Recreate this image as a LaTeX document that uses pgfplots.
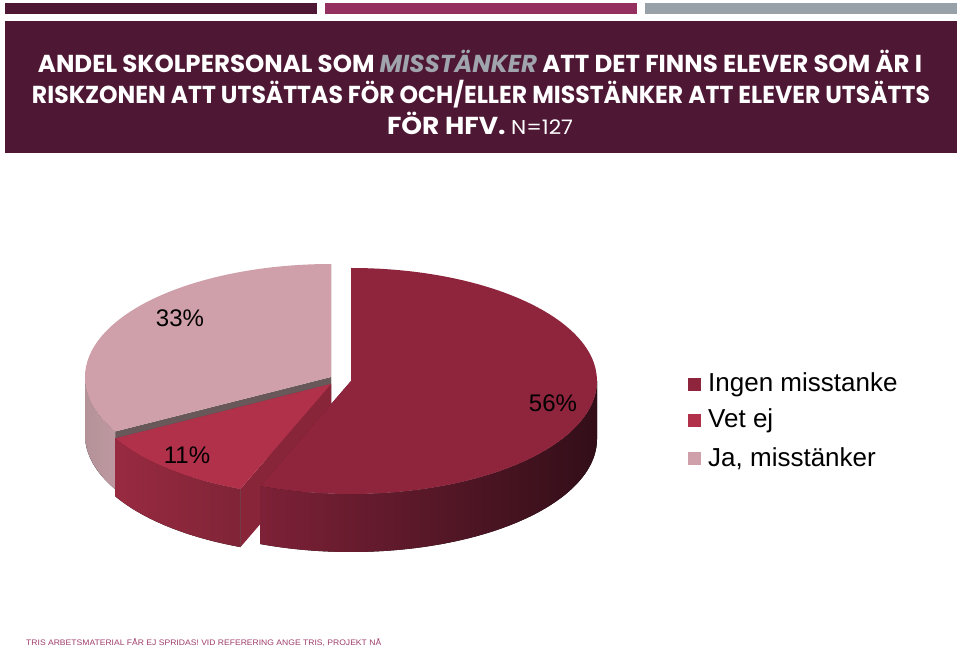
\documentclass[border=0pt]{standalone}
\usepackage{pgfplots}
\pgfplotsset{compat=1.18}
\usepackage{pgfplotstable}
\usepackage{graphicx}
\usepackage{fontspec}
\setmainfont{Liberation Sans}
\newfontfamily\titlefont{Poppins}

\definecolor{band}{RGB}{78,23,52}
\definecolor{barB}{RGB}{147,48,95}
\definecolor{barC}{RGB}{152,160,168}
\definecolor{misst}{RGB}{160,164,172}
\definecolor{footc}{RGB}{158,61,107}
\definecolor{topA}{RGB}{142,37,61}
\definecolor{topB}{RGB}{177,48,74}
\definecolor{topC}{RGB}{207,160,170}
\definecolor{wallAL}{RGB}{125,33,55}
\definecolor{wallAR}{RGB}{50,14,24}
\definecolor{cutA}{RGB}{100,25,40}
\definecolor{wallBL}{RGB}{152,42,64}
\definecolor{wallBR}{RGB}{128,36,55}
\definecolor{cutB}{RGB}{136,37,57}
\definecolor{wallCL}{RGB}{180,146,152}
\definecolor{wallCR}{RGB}{190,152,160}
\definecolor{cutC}{RGB}{105,88,90}

\pgfplotstableread{
label value
Ingen 56
Vet 11
Ja 33
}\piedata

\def\rx{246}
\def\ry{113}
\def\dep{58}

% #1 cx px, #2 cy px (pixel, y down), #3 start angle, #4 end angle, #5 top, #6/#7 wall colours, #8 cut colour
\newcommand\pieslice[8]{%
  \pgfmathsetmacro\sX{#1}%
  \pgfmathsetmacro\sY{648-(#2)}%
  \pgfmathsetmacro\sYd{\sY-\dep}%
  \pgfmathsetmacro\pAx{\sX+\rx*cos(#3)}%
  \pgfmathsetmacro\pAy{\sY+\ry*sin(#3)}%
  \pgfmathsetmacro\pBx{\sX+\rx*cos(#4)}%
  \pgfmathsetmacro\pBy{\sY+\ry*sin(#4)}%
  \pgfmathsetmacro\wA{min(#3,0)}%
  \pgfmathsetmacro\wB{max(#4,-180)}%
  \pgfmathsetmacro\wAx{\sX+\rx*cos(\wA)}%
  \pgfmathsetmacro\wAy{\sY+\ry*sin(\wA)}%
  \fill[#8] (axis cs:\sX,\sY) -- (axis cs:\pAx,\pAy) -- ++(0pt,-\dep pt) -- (axis cs:\sX,\sYd) -- cycle;
  \fill[#8] (axis cs:\sX,\sY) -- (axis cs:\pBx,\pBy) -- ++(0pt,-\dep pt) -- (axis cs:\sX,\sYd) -- cycle;
  \fill[left color=#6,right color=#7] (axis cs:\wAx,\wAy) arc[start angle=\wA,end angle=\wB,x radius=\rx pt,y radius=\ry pt] -- ++(0pt,-\dep pt) arc[start angle=\wB,end angle=\wA,x radius=\rx pt,y radius=\ry pt] -- cycle;
  \fill[#5] (axis cs:\sX,\sY) -- (axis cs:\pAx,\pAy) arc[start angle=#3,end angle=#4,x radius=\rx pt,y radius=\ry pt] -- cycle;
}

\begin{document}
\begin{tikzpicture}
\pgfplotstablegetelem{0}{value}\of\piedata \let\vA\pgfplotsretval
\pgfplotstablegetelem{1}{value}\of\piedata \let\vB\pgfplotsretval
\pgfplotstablegetelem{2}{value}\of\piedata \let\vC\pgfplotsretval
\pgfmathsetmacro\aA{90-3.6*\vA}
\pgfmathsetmacro\aB{\aA-3.6*\vB}
\pgfmathsetmacro\aC{\aB-3.6*\vC}
\begin{axis}[x=1pt,y=1pt,xmin=0,xmax=960,ymin=0,ymax=648,hide axis,clip=false]
\fill[white] (axis cs:0,0) rectangle (axis cs:960,648);
% top bars and title band
\fill[band] (axis cs:5,645) rectangle (axis cs:317,634);
\fill[barB] (axis cs:325,645) rectangle (axis cs:637,634);
\fill[barC] (axis cs:645,645) rectangle (axis cs:957,634);
\fill[band] (axis cs:5,627) rectangle (axis cs:957,495);
\node[anchor=base,white,inner sep=0pt] at (axis cs:480,575.5) {\resizebox{884pt}{\height}{\titlefont\fontsize{24.5}{28}\selectfont\bfseries ANDEL SKOLPERSONAL SOM \textcolor{misst}{\itshape MISSTÄNKER} ATT DET FINNS ELEVER SOM ÄR I}};
\node[anchor=base,white,inner sep=0pt] at (axis cs:481,544.5) {\resizebox{898pt}{\height}{\titlefont\fontsize{24.5}{28}\selectfont\bfseries RISKZONEN ATT UTSÄTTAS FÖR OCH/ELLER MISSTÄNKER ATT ELEVER UTSÄTTS}};
\node[anchor=base,white,inner sep=0pt] at (axis cs:480,513.5) {\resizebox{186pt}{\height}{\titlefont\fontsize{24.5}{28}\selectfont\bfseries FÖR HFV. {\mdseries\fontsize{20}{22}\selectfont N=127}}};
% pie
\pgfplotsextra{%
  \pieslice{331}{377}{\aB}{\aC}{topC}{wallCL}{wallCR}{cutC}%
  \pieslice{331}{384}{\aA}{\aB}{topB}{wallBL}{wallBR}{cutB}%
  \pieslice{351}{381}{90}{\aA}{topA}{wallAL}{wallAR}{cutA}%
}
\node[font=\fontsize{24}{28}\selectfont] at (axis cs:180,330) {\vC\%};
\node[font=\fontsize{24}{28}\selectfont] at (axis cs:553,245) {\vA\%};
\node[font=\fontsize{24}{28}\selectfont] at (axis cs:187,193) {\vB\%};
% legend
\fill[topA] (axis cs:688,270) rectangle (axis cs:701,257);
\fill[topB] (axis cs:688,233.5) rectangle (axis cs:701,220.5);
\fill[topC] (axis cs:688,196) rectangle (axis cs:701,183);
\node[anchor=west,inner sep=0pt,font=\fontsize{26}{30}\selectfont] at (axis cs:708,263.5) {Ingen misstanke};
\node[anchor=west,inner sep=0pt,font=\fontsize{26}{30}\selectfont] at (axis cs:708,227) {Vet ej};
\node[anchor=west,inner sep=0pt,font=\fontsize{26}{30}\selectfont] at (axis cs:708,189.5) {Ja, misstänker};
% footer
\node[anchor=base west,inner sep=0pt,footc] at (axis cs:26,3) {\resizebox{355pt}{\height}{\fontsize{8}{9}\selectfont TRIS ARBETSMATERIAL FÅR EJ SPRIDAS! VID REFERERING ANGE TRIS, PROJEKT NÅ}};
\end{axis}
\end{tikzpicture}
\end{document}
